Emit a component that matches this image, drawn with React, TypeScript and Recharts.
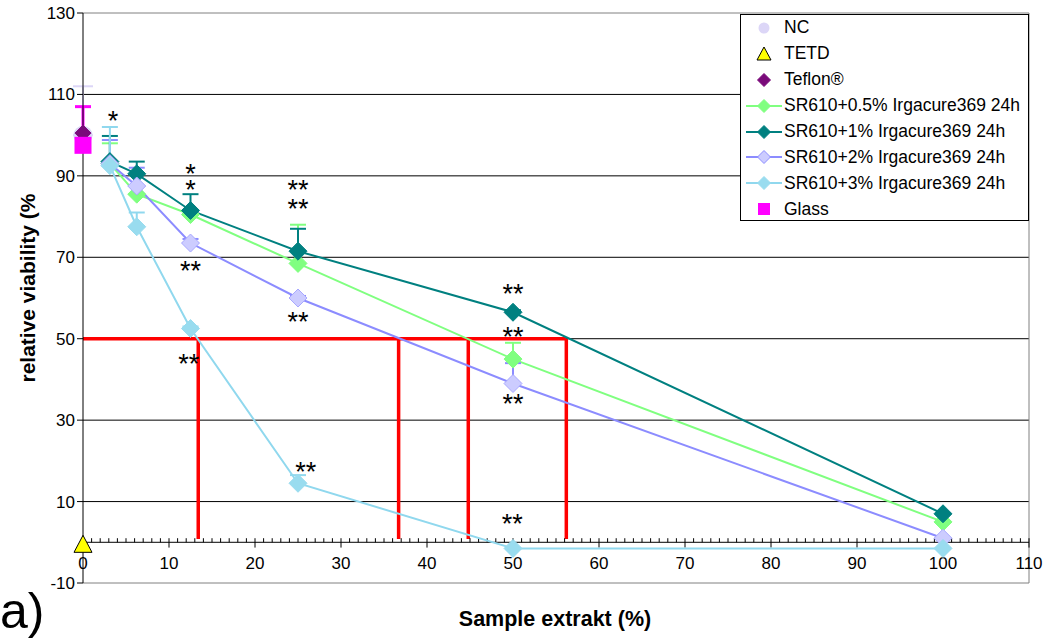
import React from 'react';
import { ComposedChart, Line, XAxis, YAxis, ReferenceLine, ReferenceDot, ErrorBar, Legend } from 'recharts';

const FONT = 'Arial, "Liberation Sans", Helvetica, sans-serif';

// sample extract concentrations (%)
const extractPct = [3.125, 6.25, 12.5, 25, 50, 100];

// relative viability (%) and upper error per series
const sr05 = [93, 85.5, 80.5, 68.5, 45, 5];
const sr05Err = [5, 0, 0, 9.5, 4, 0];
const sr1 = [93.5, 90.5, 81.5, 71.5, 56.5, 7];
const sr1Err = [6.3, 3, 4, 5.5, 0.5, 0];
const sr2 = [93, 87.5, 73.5, 60, 39, 1];
const sr2Err = [5.8, 4.5, 1, 0.5, 5, 0];
const sr3 = [92.5, 77.5, 52.5, 14.5, -1.5, -1.5];
const sr3Err = [9.5, 3.5, 0.5, 2, 0, 0];

// controls at 0 %
const ncValue = 100;
const ncErr = 12;
const tetdValue = -0.5;
const teflonValue = 100.5;
const glassValue = 97.5;
const glassErr = 9.5;

// IC50 read-off lines
const ic50Level = 50;
const ic50X = [13.4, 36.7, 44.8, 56.2];
const ic50Bottom = 0.8;

const xTicks = [0, 10, 20, 30, 40, 50, 60, 70, 80, 90, 100, 110];
const xMinorTicks = Array.from({ length: 110 }, (_, i) => i + 1).filter((v) => v % 10 !== 0);
const yTicks = [-10, 10, 30, 50, 70, 90, 110, 130];
const gridValues = [10, 30, 50, 70, 90, 110];

// significance marks
const stars = [
  { x: 3.5, y: 105, text: '*' },
  { x: 12.5, y: 92, text: '*' },
  { x: 12.5, y: 88, text: '*' },
  { x: 25, y: 88, text: '**' },
  { x: 25, y: 83.3, text: '**' },
  { x: 12.5, y: 68, text: '**' },
  { x: 25, y: 55.5, text: '**' },
  { x: 12.3, y: 45.2, text: '**' },
  { x: 50, y: 62.4, text: '**' },
  { x: 50, y: 51.8, text: '**' },
  { x: 50, y: 35.4, text: '**' },
  { x: 25.9, y: 18.7, text: '**' },
  { x: 49.9, y: 5.9, text: '**' },
];

const legendNames = [
  'NC',
  'TETD',
  'Teflon®',
  'SR610+0.5% Irgacure369 24h',
  'SR610+1% Irgacure369 24h',
  'SR610+2% Irgacure369 24h',
  'SR610+3% Irgacure369 24h',
  'Glass',
];

const toSeries = (ys: number[], errs: number[]) =>
  extractPct.map((x, i) => ({ x, y: ys[i], err: [0, errs[i]] }));

const sr05Data = toSeries(sr05, sr05Err);
const sr1Data = toSeries(sr1, sr1Err);
const sr2Data = toSeries(sr2, sr2Err);
const sr3Data = toSeries(sr3, sr3Err);
const ncData = [{ x: 0, y: ncValue, err: [0, ncErr] }];
const tetdData = [{ x: 0, y: tetdValue }];
const teflonData = [{ x: 0, y: teflonValue }];
const glassData = [{ x: 0, y: glassValue, err: [0, glassErr] }];

const C = {
  nc: '#dcd6f7',
  tetd: '#ffff00',
  teflon: '#7a0a7a',
  sr05: '#80ff80',
  sr1: '#008080',
  sr2Line: '#8c8cff',
  sr2Fill: '#ccccff',
  sr3Line: '#90d8ee',
  sr3Fill: '#99dcef',
  glass: '#ff00ff',
  red: '#ff0000',
};

type Kind = 'circle' | 'triangle' | 'diamond' | 'line' | 'square';
const legendIcons: { kind: Kind; fill: string; line?: string; stroke?: string }[] = [
  { kind: 'circle', fill: C.nc },
  { kind: 'triangle', fill: C.tetd, stroke: '#000' },
  { kind: 'diamond', fill: C.teflon },
  { kind: 'line', fill: C.sr05, line: C.sr05 },
  { kind: 'line', fill: C.sr1, line: C.sr1 },
  { kind: 'line', fill: C.sr2Fill, line: C.sr2Line, stroke: C.sr2Line },
  { kind: 'line', fill: C.sr3Fill, line: C.sr3Line },
  { kind: 'square', fill: C.glass },
];

const diamondPts = (cx: number, cy: number, r: number) =>
  `${cx},${cy - r} ${cx + r},${cy} ${cx},${cy + r} ${cx - r},${cy}`;

const diamondDot = (fill: string, r: number, stroke?: string) => (p: any) => (
  <polygon
    key={`dm-${p.index}`}
    points={diamondPts(p.cx, p.cy, r)}
    fill={fill}
    stroke={stroke || fill}
    strokeWidth={1}
  />
);

const circleDot = (fill: string, r: number) => (p: any) => (
  <circle key={`c-${p.index}`} cx={p.cx} cy={p.cy} r={r} fill={fill} />
);

const triangleDot = (fill: string) => (p: any) => (
  <polygon
    key={`t-${p.index}`}
    points={`${p.cx},${p.cy - 9} ${p.cx + 9},${p.cy + 8} ${p.cx - 9},${p.cy + 8}`}
    fill={fill}
    stroke="#000"
    strokeWidth={1}
  />
);

const squareDot = (fill: string, s: number) => (p: any) => (
  <rect key={`s-${p.index}`} x={p.cx - s / 2} y={p.cy - s / 2} width={s} height={s} fill={fill} />
);

const LegendIcon = ({ kind, fill, line, stroke }: (typeof legendIcons)[number]) => (
  <svg width={36} height={20} style={{ display: 'block' }}>
    {kind === 'line' && <line x1={0} y1={10} x2={36} y2={10} stroke={line} strokeWidth={2} />}
    {(kind === 'line' || kind === 'diamond') && (
      <polygon points={diamondPts(18, 10, 6.5)} fill={fill} stroke={stroke || fill} />
    )}
    {kind === 'circle' && <circle cx={18} cy={10} r={5.5} fill={fill} />}
    {kind === 'triangle' && <polygon points="18,3 25,16 11,16" fill={fill} stroke={stroke} />}
    {kind === 'square' && <rect x={12} y={4} width={12} height={12} fill={fill} />}
  </svg>
);

const renderLegend = () => (
  <div style={{ fontFamily: FONT, fontSize: 17.5, color: '#000' }}>
    {legendNames.map((name, i) => (
      <div key={name} style={{ display: 'flex', alignItems: 'center', height: 25.9, whiteSpace: 'nowrap' }}>
        <div style={{ width: 36, marginLeft: 5, marginRight: 2 }}>
          <LegendIcon {...legendIcons[i]} />
        </div>
        <span>{name}</span>
      </div>
    ))}
  </div>
);

const starShape = (text: string) => (p: any) => (
  <text x={p.cx} y={p.cy} dy={15} textAnchor="middle" fontFamily={FONT} fontSize={27} fill="#000">
    {text}
  </text>
);

const xLabelShape = (text: string) => (p: any) => (
  <text x={p.cx} y={p.cy} dy={27} textAnchor="middle" fontFamily={FONT} fontSize={17} fill="#000">
    {text}
  </text>
);

export default function App() {
  return (
    <div style={{ position: 'absolute', left: 0, top: 0, width: 1050, height: 640, background: '#fff' }}>
      <ComposedChart width={1050} height={640} margin={{ top: 13, right: 21, bottom: 57, left: 0 }}>
        <XAxis type="number" dataKey="x" domain={[0, 110]} ticks={xTicks} hide />
        <YAxis
          type="number"
          domain={[-10, 130]}
          ticks={yTicks}
          interval={0}
          width={83}
          axisLine={{ stroke: '#000' }}
          tickLine={{ stroke: '#000' }}
          tickSize={6}
          tick={{ fill: '#000', fontSize: 17, fontFamily: FONT }}
        />

        {gridValues.map((v) => (
          <ReferenceLine key={`g-${v}`} y={v} stroke="#000" strokeWidth={1} />
        ))}
        <ReferenceLine y={130} stroke="#808080" />
        <ReferenceLine y={-10} stroke="#808080" />
        <ReferenceLine x={110} stroke="#808080" />

        <ReferenceLine
          segment={[{ x: 0, y: ic50Level }, { x: ic50X[ic50X.length - 1], y: ic50Level }]}
          stroke={C.red}
          strokeWidth={3.5}
        />
        {ic50X.map((x) => (
          <ReferenceLine
            key={`ic-${x}`}
            segment={[{ x, y: ic50Level }, { x, y: ic50Bottom }]}
            stroke={C.red}
            strokeWidth={3.5}
          />
        ))}

        {/* x axis drawn at y = 0 */}
        <ReferenceLine y={0} stroke="#000" strokeWidth={1} />
        {xMinorTicks.map((v) => (
          <ReferenceLine key={`mt-${v}`} segment={[{ x: v, y: 0 }, { x: v, y: 1 }]} stroke="#000" />
        ))}
        {xTicks.map((v) => (
          <ReferenceLine key={`Mt-${v}`} segment={[{ x: v, y: 1 }, { x: v, y: -1.3 }]} stroke="#000" />
        ))}
        {xTicks.map((v) => (
          <ReferenceDot key={`xl-${v}`} x={v} y={0} r={0} shape={xLabelShape(String(v))} />
        ))}

        <Line data={ncData} dataKey="y" stroke="none" dot={circleDot(C.nc, 9.5)} isAnimationActive={false}>
          <ErrorBar dataKey="err" direction="y" width={10} stroke={C.nc} strokeWidth={2} isAnimationActive={false} />
        </Line>
        <Line data={tetdData} dataKey="y" stroke="none" dot={triangleDot(C.tetd)} isAnimationActive={false} />
        <Line data={teflonData} dataKey="y" stroke="none" dot={diamondDot(C.teflon, 8)} isAnimationActive={false} />
        <Line data={sr05Data} dataKey="y" stroke={C.sr05} strokeWidth={2} dot={diamondDot(C.sr05, 9)} isAnimationActive={false}>
          <ErrorBar dataKey="err" direction="y" width={8} stroke={C.sr05} strokeWidth={2} isAnimationActive={false} />
        </Line>
        <Line data={sr1Data} dataKey="y" stroke={C.sr1} strokeWidth={2} dot={diamondDot(C.sr1, 9)} isAnimationActive={false}>
          <ErrorBar dataKey="err" direction="y" width={8} stroke={C.sr1} strokeWidth={2} isAnimationActive={false} />
        </Line>
        <Line data={sr2Data} dataKey="y" stroke={C.sr2Line} strokeWidth={2} dot={diamondDot(C.sr2Fill, 9, '#a8a8ff')} isAnimationActive={false}>
          <ErrorBar dataKey="err" direction="y" width={8} stroke={C.sr2Line} strokeWidth={2} isAnimationActive={false} />
        </Line>
        <Line data={sr3Data} dataKey="y" stroke={C.sr3Line} strokeWidth={2} dot={diamondDot(C.sr3Fill, 9)} isAnimationActive={false}>
          <ErrorBar dataKey="err" direction="y" width={8} stroke={C.sr3Line} strokeWidth={2} isAnimationActive={false} />
        </Line>
        <Line data={glassData} dataKey="y" stroke="none" dot={squareDot(C.glass, 17)} isAnimationActive={false}>
          <ErrorBar dataKey="err" direction="y" width={8} stroke={C.glass} strokeWidth={3} isAnimationActive={false} />
        </Line>

        {stars.map((s, i) => (
          <ReferenceDot key={`st-${i}`} x={s.x} y={s.y} r={0} shape={starShape(s.text)} />
        ))}

        <Legend
          layout="vertical"
          align="center"
          verticalAlign="middle"
          content={renderLegend}
          wrapperStyle={{
            left: 740,
            top: 14,
            width: 289,
            height: 207,
            border: '1px solid #000',
            background: '#fff',
            boxSizing: 'border-box',
          }}
        />
      </ComposedChart>

      <svg
        width={1050}
        height={640}
        style={{ position: 'absolute', left: 0, top: 0, pointerEvents: 'none' }}
      >
        <text
          transform="translate(35,288) rotate(-90)"
          textAnchor="middle"
          fontFamily={FONT}
          fontWeight="bold"
          fontSize={21}
          fill="#000"
        >
          relative viability (%
        </text>
        <text x={555} y={626} textAnchor="middle" fontFamily={FONT} fontWeight="bold" fontSize={21.5} fill="#000">
          Sample extrakt (%)
        </text>
        <text x={0} y={628} fontFamily={FONT} fontSize={50} fill="#000">
          a)
        </text>
      </svg>
    </div>
  );
}
